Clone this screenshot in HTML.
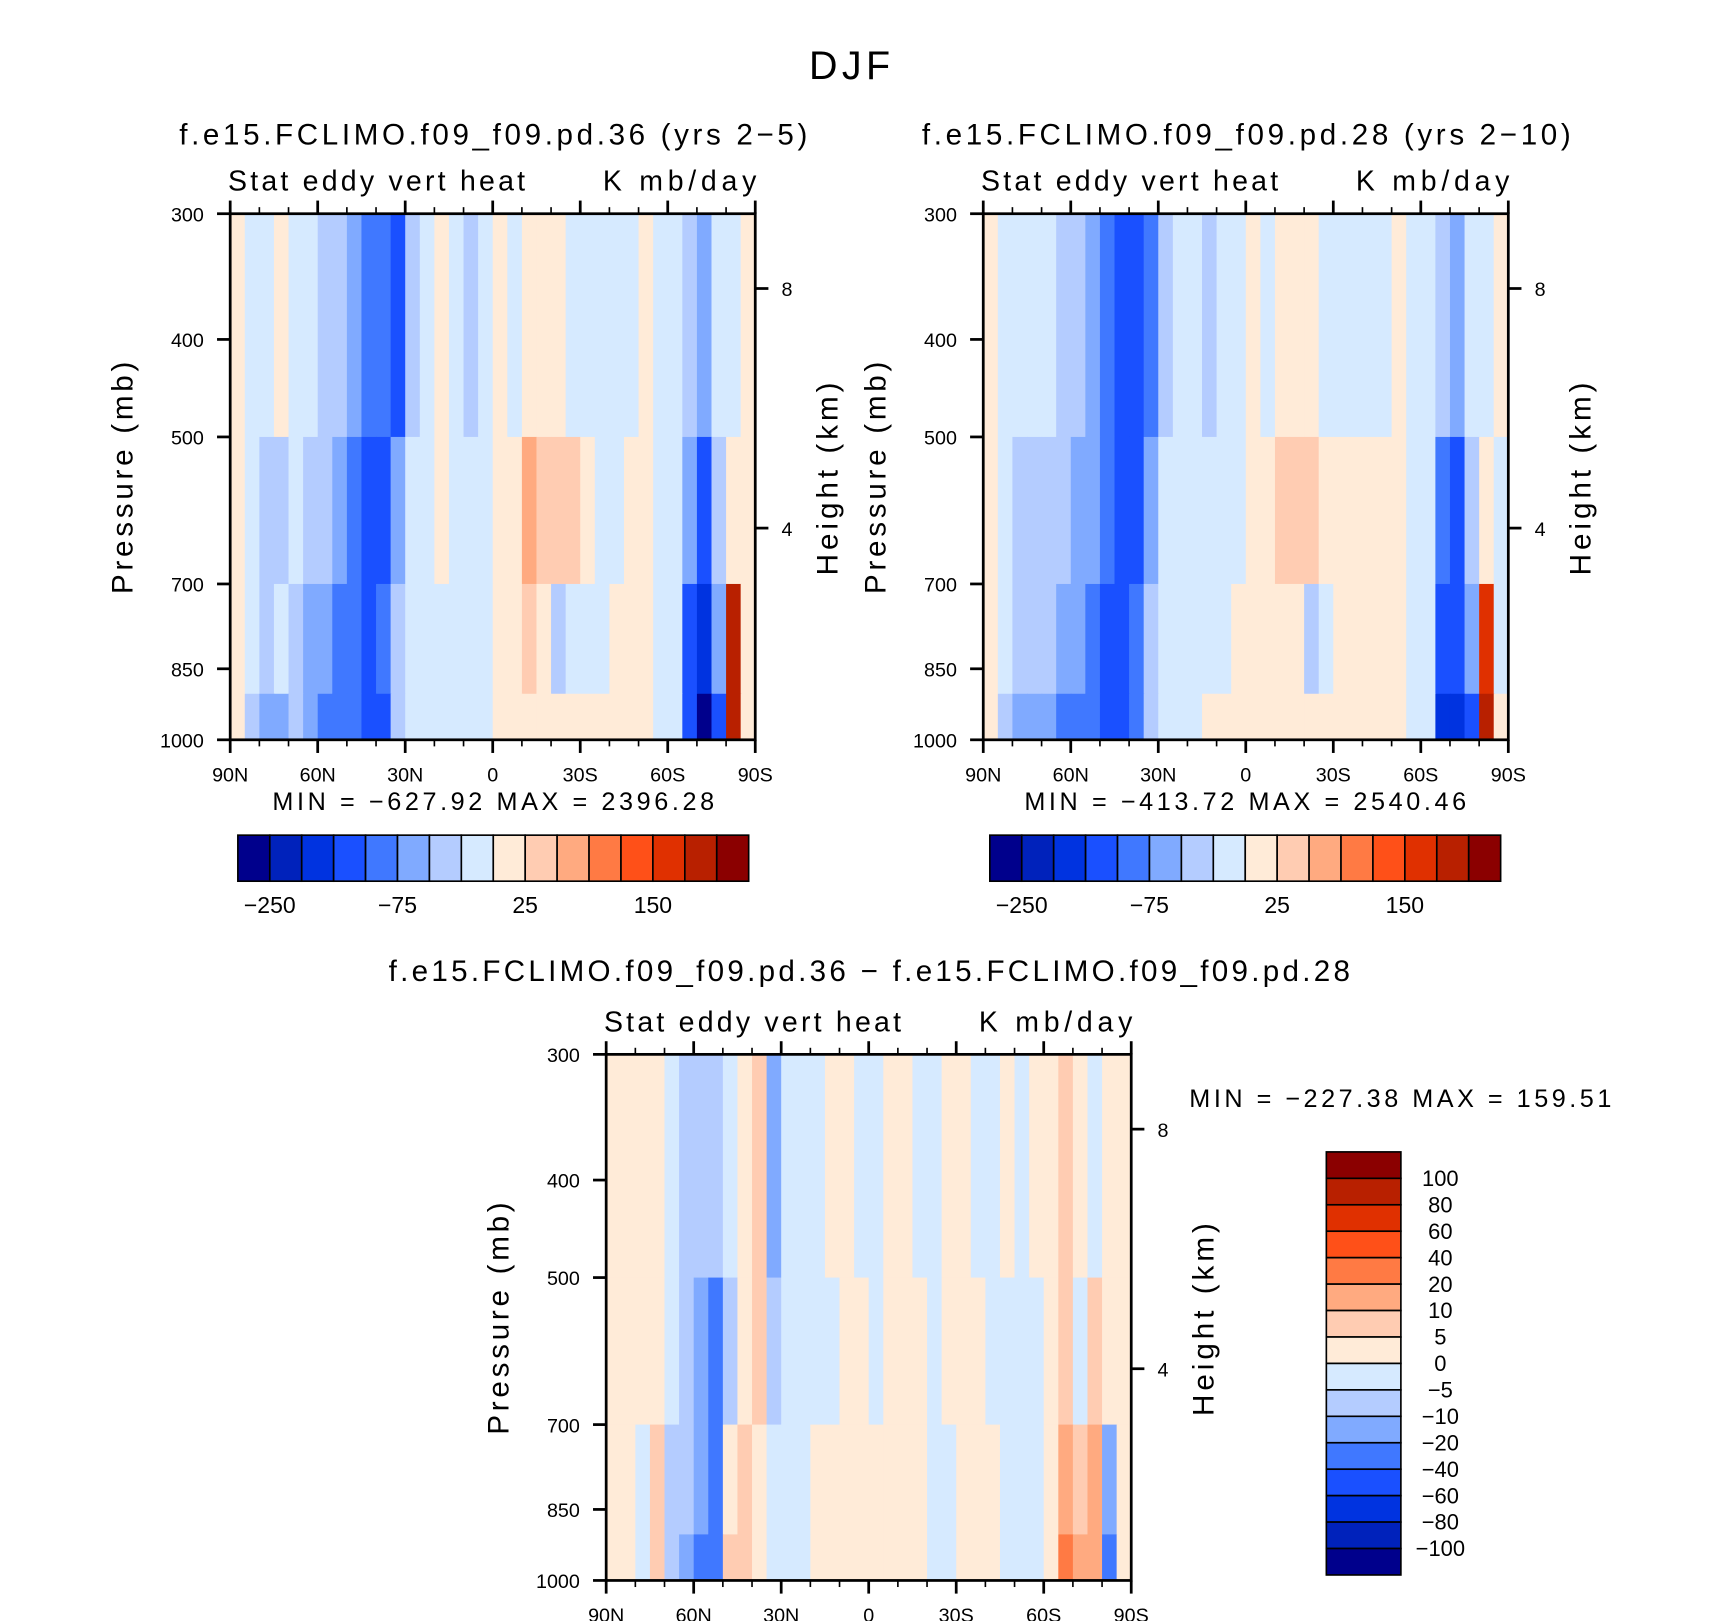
<!DOCTYPE html>
<html><head><meta charset="utf-8"><style>
html,body{margin:0;padding:0;background:#fff}
svg{display:block}
text{font-family:"Liberation Sans",sans-serif;fill:#000}
</style></head><body>
<svg id="fig" width="1710" height="1621" viewBox="0 0 1560 1479" preserveAspectRatio="none" xmlns="http://www.w3.org/2000/svg">
<rect width="1560" height="1479" fill="#fff"/>
<text x="775" y="72" font-size="36" text-anchor="middle" textLength="74" lengthAdjust="spacing">DJF</text>
<g id="panels"></g>
</svg>
<script>
const colors=["#00008c","#0022bb","#0033e0","#1a50ff","#4078ff","#80aaff","#b4ccff","#d6eaff","#ffebd8","#ffccb2","#ffaa80","#ff7a44","#ff5018","#e03000","#b82000","#8b0000"];
const levelsAbs=[-250,-200,-150,-100,-75,-50,-25,0,25,50,75,100,150,200,250];
const levelsDiff=[-100,-80,-60,-40,-20,-10,-5,0,5,10,20,40,60,80,100];
const absTickLabels=["-250","-75","25","150"];
const diffTickLabels=["100","80","60","40","20","10","5","0","-5","-10","-20","-40","-60","-80","-100"];
const latLabels=["90N","60N","30N","0","30S","60S","90S"];
const presTicks=[300,400,500,700,850,1000];
const heightTicks=[8,4];
const heightTickP=[356,616];
const bandP=[300,500,700,900,1000];
const p1=[
[10,-10,-10,10,-10,-10,-30,-40,-60,-90,-90,-120,-40,-10,10,-10,-40,-10,10,-10,10,10,10,-10,-10,-10,-10,-10,10,-10,-10,-30,-60,-10,-10,10],
[10,-10,-40,-30,-10,-40,-40,-60,-80,-120,-120,-60,-10,-10,10,-10,-10,-10,10,10,60,40,40,30,10,-10,-10,10,10,-10,-10,-60,-120,-30,10,10],
[10,-10,-40,-20,-30,-60,-60,-80,-80,-120,-90,-40,-10,-10,-10,-10,-10,-10,10,10,30,10,-30,-10,-10,-10,10,10,10,-10,-10,-120,-200,-60,200,10],
[10,-30,-60,-60,-40,-60,-80,-90,-100,-120,-120,-40,-10,-10,-10,-10,-10,-10,10,10,10,10,10,10,10,10,10,10,10,-10,-10,-150,-300,-150,200,10]];
const p2=[
[10,-10,-10,-10,-10,-30,-40,-60,-90,-120,-120,-90,-40,-10,-10,-40,-10,-10,10,-10,10,10,10,-10,-10,-10,-10,-10,10,-10,-10,-40,-60,-10,-10,10],
[10,-10,-40,-30,-40,-40,-60,-60,-90,-120,-120,-60,-10,-10,-10,-10,-10,-10,10,10,40,30,30,10,10,10,10,10,10,-10,-10,-90,-120,-30,10,-10],
[10,-10,-40,-30,-40,-60,-60,-90,-120,-120,-90,-40,-10,-10,-10,-10,-10,10,10,10,10,10,-30,-10,10,10,10,10,10,-10,-10,-120,-150,-60,150,-10],
[10,-30,-60,-60,-60,-80,-90,-100,-120,-120,-100,-40,-10,-10,-10,10,10,10,10,10,10,10,10,10,10,10,10,10,10,-10,-10,-200,-200,-150,200,10]];
const p3=[
[2,2,2,2,-2,-8,-8,-8,-2,2,8,-15,-2,-2,-2,2,2,-2,-2,2,2,-2,-2,2,2,-2,-2,2,-2,2,2,8,2,-2,2,2],
[2,2,2,2,-2,-8,-15,-30,-8,2,8,-8,-2,-2,-2,-2,2,2,-2,2,2,2,-2,2,2,2,-2,-2,-2,-2,2,8,-2,8,2,2],
[2,2,-2,8,-8,-8,-15,-30,2,8,2,-2,-2,-2,2,2,2,2,2,2,2,2,-2,-2,2,2,2,-2,-2,-2,2,15,8,15,-15,2],
[2,2,-2,8,-8,-15,-30,-30,8,8,2,-2,-2,-2,2,2,2,2,2,2,2,2,-2,-2,2,2,2,-2,-2,-2,2,30,15,15,-30,2]];

const NS="http://www.w3.org/2000/svg";
const root=document.getElementById('panels');
function mk(tag,attrs,parent,txt){const e=document.createElementNS(NS,tag);for(const k in attrs)e.setAttribute(k,attrs[k]);if(txt!==undefined)e.textContent=txt;(parent||root).appendChild(e);return e;}
function colorFor(v,lev){let i=0;while(i<lev.length&&v>=lev[i])i++;return colors[i];}

function panel(px,py,data,lev,title,titleLen,minmax,mmPos,name){
  const W=479,H=480;
  const g=mk('g',{});
  
  
  const xs=lat=>px+(90-lat)/180*W;
  const ys=p=>py+(Math.log(p)-Math.log(300))/(Math.log(1000)-Math.log(300))*H;
  if(title){
    const t=mk('text',{x:px+240,y:py-63,'font-size':27,'text-anchor':'middle',textLength:titleLen,lengthAdjust:'spacing'},g,title);
    
  }
  const s1=mk('text',{x:px-2,y:py-21,'font-size':26,textLength:271,lengthAdjust:'spacing'},g,'Stat eddy vert heat');
  
  const s2=mk('text',{x:px+W-139,y:py-21,'font-size':26,textLength:140,lengthAdjust:'spacing'},g,'K mb/day');
  
  for(let r=0;r<data.length;r++){
    for(let c=0;c<data[r].length;c++){
      const lat0=90-c*5, lat1=lat0-5;
      const cell=mk('rect',{x:xs(lat0),y:ys(bandP[r]),width:xs(lat1)-xs(lat0)+0.6,height:ys(bandP[r+1])-ys(bandP[r])+0.6,fill:colorFor(data[r][c],lev)},g);
      
      
    }
  }
  const fr=mk('rect',{x:px,y:py,width:W,height:H,fill:'none',stroke:'#000','stroke-width':2.5},g);
  
  for(let lat=90;lat>=-90;lat-=10){
    const major=lat%30===0, L=major?12:6, x=xs(lat);
    mk('line',{x1:x,x2:x,y1:py+H,y2:py+H+L,stroke:'#000','stroke-width':major?2.5:1.5},g);
    mk('line',{x1:x,x2:x,y1:py,y2:py-L,stroke:'#000','stroke-width':major?2.5:1.5},g);
  }
  latLabels.forEach((lb,i)=>{const e=mk('text',{x:px+i*W/6,y:py+H+38,'font-size':18,'text-anchor':'middle'},g,lb);
    });
  presTicks.forEach(p=>{const y=ys(p);
    mk('line',{x1:px-12,x2:px,y1:y,y2:y,stroke:'#000','stroke-width':2.5},g);
    const e=mk('text',{x:px-24,y:y+7,'font-size':18,'text-anchor':'end'},g,String(p));
    });
  heightTicks.forEach((h,i)=>{const y=ys(heightTickP[i]);
    mk('line',{x1:px+W,x2:px+W+12,y1:y,y2:y,stroke:'#000','stroke-width':2.5},g);
    const e=mk('text',{x:px+W+24,y:y+7,'font-size':18},g,String(h));
    });
  const yl=mk('text',{x:0,y:0,'font-size':27,'text-anchor':'middle',textLength:212,lengthAdjust:'spacing',transform:`translate(${px-89},${py+241}) rotate(-90)`},g,'Pressure (mb)');
  
  const hl=mk('text',{x:0,y:0,'font-size':27,'text-anchor':'middle',textLength:176,lengthAdjust:'spacing',transform:`translate(${px+W+75},${py+242}) rotate(-90)`},g,'Height (km)');
  
  const mm=mk('text',{x:mmPos[0],y:mmPos[1],'font-size':23,'text-anchor':mmPos[2],textLength:mmPos[3],lengthAdjust:'spacing'},g,minmax);
  
}
function hbar(x,y,labels,name){
  const g=mk('g',{});
  const w=466/16;
  colors.forEach((c,i)=>{const r=mk('rect',{x:x+i*w,y:y,width:w,height:42,fill:c,stroke:'#000','stroke-width':1.5},g);
    });
  labels.forEach((lb,i)=>{const e=mk('text',{x:x+(1+4*i)*w,y:y+71,'font-size':21,'text-anchor':'middle'},g,lb.replace('-','\u2212'));
    });
}
function vbar(x,y,labels,name){
  const g=mk('g',{});
  const h=386/16;
  colors.slice().reverse().forEach((c,i)=>{const r=mk('rect',{x:x,y:y+i*h,width:68,height:h,fill:c,stroke:'#000','stroke-width':1.5},g);
    });
  labels.forEach((lb,i)=>{const e=mk('text',{x:x+104,y:y+(i+1)*h+7,'font-size':20,'text-anchor':'middle'},g,lb.replace('-','\u2212'));
    });
}
panel(210,195,p1,levelsAbs,'f.e15.FCLIMO.f09_f09.pd.36 (yrs 2\u22125)',573,'MIN = \u2212627.92   MAX = 2396.28',[450,739,'middle',403],'panel-case-36');
panel(897,195,p2,levelsAbs,'f.e15.FCLIMO.f09_f09.pd.28 (yrs 2\u221210)',592,'MIN = \u2212413.72   MAX = 2540.46',[1136,739,'middle',403],'panel-case-28');
panel(553,962,p3,levelsDiff,'',0,'MIN = \u2212227.38   MAX = 159.51',[1085,1010,'start',385],'panel-difference');
const dt=mk('text',{x:793,y:895,'font-size':27,'text-anchor':'middle',textLength:877,lengthAdjust:'spacing'},root,'f.e15.FCLIMO.f09_f09.pd.36 \u2212 f.e15.FCLIMO.f09_f09.pd.28');

hbar(217,762,absTickLabels,'colorbar-case-36');
hbar(903,762,absTickLabels,'colorbar-case-28');
vbar(1210,1051,diffTickLabels,'colorbar-difference');
</script>
</body></html>
